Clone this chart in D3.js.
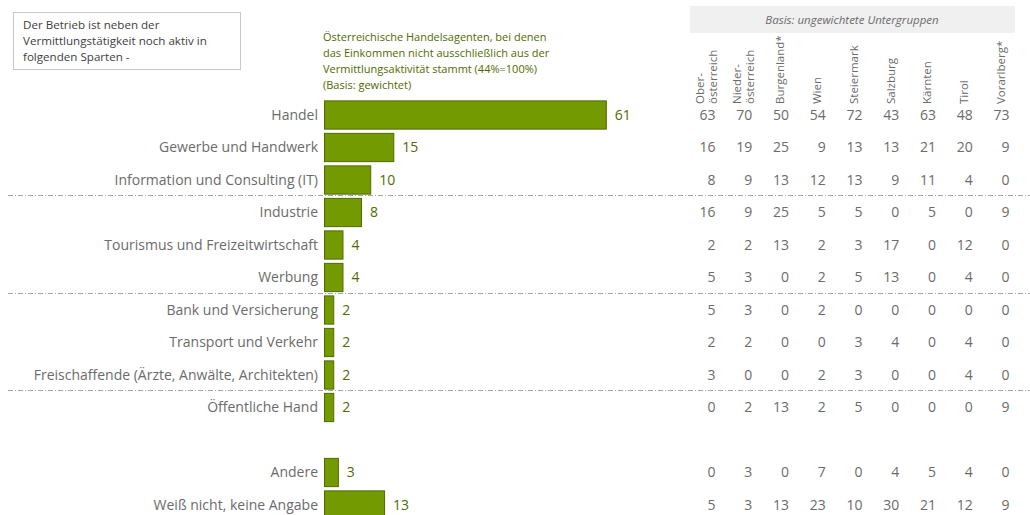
<!DOCTYPE html>
<meta charset="utf-8">
<script src="https://d3js.org/d3.v7.min.js"></script>
<style>
  body { margin: 0; background: #fff; }
  text { font-family: "Open Sans", sans-serif; }
</style>
<div id="chart"></div>
<script>
// categories (top to bottom)
const categories = [
  "Handel", "Gewerbe und Handwerk", "Information und Consulting (IT)",
  "Industrie", "Tourismus und Freizeitwirtschaft", "Werbung",
  "Bank und Versicherung", "Transport und Verkehr",
  "Freischaffende (Ärzte, Anwälte, Architekten)", "Öffentliche Hand",
  "Andere", "Weiß nicht, keine Angabe"
];
// weighted total (%)
const totals = [61, 15, 10, 8, 4, 4, 2, 2, 2, 2, 3, 13];

// regions (table columns)
const regions = [
  ["Ober-", "österreich"], ["Nieder-", "österreich"], ["Burgenland*"], ["Wien"],
  ["Steiermark"], ["Salzburg"], ["Kärnten"], ["Tirol"], ["Vorarlberg*"]
];
// one row per category, one value per region
const regionValues = [
  [63, 70, 50, 54, 72, 43, 63, 48, 73],
  [16, 19, 25, 9, 13, 13, 21, 20, 9],
  [8, 9, 13, 12, 13, 9, 11, 4, 0],
  [16, 9, 25, 5, 5, 0, 5, 0, 9],
  [2, 2, 13, 2, 3, 17, 0, 12, 0],
  [5, 3, 0, 2, 5, 13, 0, 4, 0],
  [5, 3, 0, 2, 0, 0, 0, 0, 0],
  [2, 2, 0, 0, 3, 4, 0, 4, 0],
  [3, 0, 0, 2, 3, 0, 0, 4, 0],
  [0, 2, 13, 2, 5, 0, 0, 0, 9],
  [0, 3, 0, 7, 0, 4, 5, 4, 0],
  [5, 3, 13, 23, 10, 30, 21, 12, 9]
];
// separators drawn after these category indices
const separatorsAfter = [2, 5, 8];

const boxText = ["Der Betrieb ist neben der", "Vermittlungstätigkeit noch aktiv in", "folgenden Sparten -"];
const titleText = [
  "Österreichische Handelsagenten, bei denen",
  "das Einkommen nicht ausschließlich aus der",
  "Vermittlungsaktivität stammt (44%=100%)",
  "(Basis: gewichtet)"
];
const basisText = "Basis: ungewichtete Untergruppen";

const width = 1030, height = 515;
const green = "#739a00", greenDark = "#4f6b00", gray = "#6b6b6b";

const svg = d3.select("#chart").append("svg")
  .attr("width", width).attr("height", height);

// row slots: a blank slot between "Öffentliche Hand" and "Andere"
const slots = categories.slice(0, 10).concat(["__gap"], categories.slice(10));
const y = d3.scaleBand()
  .domain(slots)
  .range([98.75, 98.75 + 32.5 * slots.length])
  .paddingInner(0.1)
  .paddingOuter(0.05);

const x = d3.scaleLinear().domain([0, 100]).range([324, 786]);

const col = d3.scaleBand()
  .domain(d3.range(regions.length))
  .range([688.6, 688.6 + 36.75 * regions.length]);

// left info box
svg.append("rect")
  .attr("x", 13.5).attr("y", 12.5).attr("width", 227).attr("height", 57)
  .attr("fill", "#fff").attr("stroke", "#c8c8c8");
svg.append("g").selectAll("text").data(boxText).join("text")
  .attr("x", 23).attr("y", (d, i) => 28.5 + i * 16)
  .attr("font-size", 11.6).attr("fill", "#404040")
  .text(d => d);

// title above bars
svg.append("g").selectAll("text").data(titleText).join("text")
  .attr("x", 323).attr("y", (d, i) => 41 + i * 16)
  .attr("font-size", 11).attr("fill", "#4f6b00")
  .text(d => d);

// basis header
svg.append("rect")
  .attr("x", 690).attr("y", 6).attr("width", 325).attr("height", 27)
  .attr("fill", "#f0f0f0");
svg.append("text")
  .attr("x", 852).attr("y", 23.5).attr("text-anchor", "middle")
  .attr("font-size", 11.5).attr("font-style", "italic").attr("fill", gray)
  .text(basisText);

// region labels (rotated)
const rg = svg.append("g").selectAll("g").data(regions).join("g")
  .attr("transform", (d, i) => "translate(" + (col(i) + col.bandwidth() / 2) + ",104)");
rg.selectAll("text").data(d => d).join("text")
  .attr("transform", (d, i, nodes) => {
    const n = nodes.length;
    const dx = n === 1 ? 4 : (i === 0 ? -2.5 : 10);
    return "translate(" + dx + ",0) rotate(-90)";
  })
  .attr("font-size", 11.5).attr("fill", gray)
  .text(d => d);

// separators
svg.append("g").selectAll("line").data(separatorsAfter).join("line")
  .attr("x1", 8).attr("x2", width)
  .attr("y1", d => Math.round(y(categories[d + 1]) - y.step() * 0.05 - 1) + 0.5)
  .attr("y2", d => Math.round(y(categories[d + 1]) - y.step() * 0.05 - 1) + 0.5)
  .attr("stroke", "#a6a6a6").attr("stroke-width", 1)
  .attr("stroke-dasharray", "5,2,1,2");

// category labels
svg.append("g").selectAll("text").data(categories).join("text")
  .attr("x", 318).attr("y", d => y(d) + y.bandwidth() / 2)
  .attr("dy", "0.35em").attr("text-anchor", "end")
  .attr("font-size", 14).attr("fill", gray)
  .text(d => d);

// bars
svg.append("g").selectAll("rect").data(totals).join("rect")
  .attr("x", x(0) + 0.5)
  .attr("y", (d, i) => y(categories[i]) + 0.5)
  .attr("width", d => x(d) - x(0))
  .attr("height", y.bandwidth() - 1)
  .attr("fill", green).attr("stroke", greenDark).attr("stroke-width", 1);

// value labels
svg.append("g").selectAll("text").data(totals).join("text")
  .attr("x", d => x(d) + 9)
  .attr("y", (d, i) => y(categories[i]) + y.bandwidth() / 2)
  .attr("dy", "0.35em")
  .attr("font-size", 14).attr("fill", "#4f6b00")
  .text(d => d);

// region table
const rows = svg.append("g").selectAll("g").data(regionValues).join("g")
  .attr("transform", (d, i) => "translate(0," + (y(categories[i]) + y.bandwidth() / 2) + ")");
rows.selectAll("text").data(d => d).join("text")
  .attr("x", (d, i) => col(i) + col.bandwidth() / 2 + 8.5)
  .attr("dy", "0.35em").attr("text-anchor", "end")
  .attr("font-size", 14).attr("fill", gray)
  .text(d => d);
</script>
